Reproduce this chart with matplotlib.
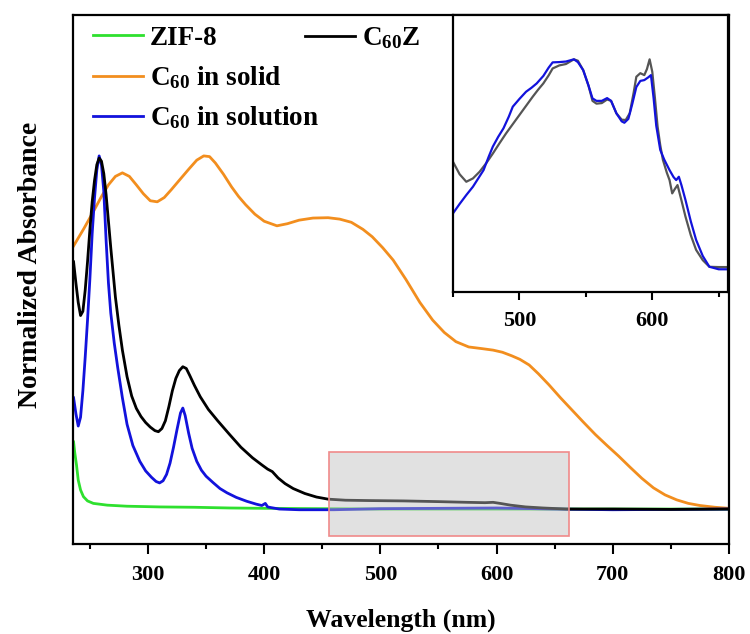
import numpy as np
import matplotlib
matplotlib.use("Agg")
import matplotlib.pyplot as plt
from matplotlib.patches import Rectangle
from matplotlib.ticker import MultipleLocator

plt.rcParams['font.family'] = 'Liberation Serif'
plt.rcParams['font.weight'] = 'bold'
plt.rcParams['mathtext.fontset'] = 'custom'
plt.rcParams['mathtext.rm'] = 'Liberation Serif:bold'
plt.rcParams['mathtext.bf'] = 'Liberation Serif:bold'
plt.rcParams['mathtext.default'] = 'rm'

# ==================== spectra (normalized) ==================== #

solid_nm = [236, 245, 253, 260, 266, 272, 278, 284, 290, 296, 302, 308, 314, 320,
            328, 335, 342, 348, 353, 358, 365, 372, 378, 384, 392, 400, 411, 420,
            430, 442, 455, 465, 475, 485, 493, 502, 511, 522, 534, 545, 555, 565,
            576, 588, 597, 605, 613, 620, 628, 636, 645, 655, 665, 675, 685, 695,
            705, 715, 725, 735, 745, 755, 765, 775, 788, 800]
solid_abs = [0.745, 0.795, 0.842, 0.885, 0.918, 0.942, 0.952, 0.942, 0.918, 0.893,
             0.873, 0.870, 0.882, 0.904, 0.935, 0.962, 0.988, 1.0, 0.998, 0.980,
             0.948, 0.912, 0.885, 0.862, 0.835, 0.815, 0.802, 0.808, 0.818, 0.824,
             0.825, 0.821, 0.812, 0.792, 0.771, 0.740, 0.705, 0.650, 0.585, 0.535,
             0.500, 0.474, 0.459, 0.454, 0.450, 0.444, 0.434, 0.424, 0.408, 0.383,
             0.352, 0.315, 0.280, 0.245, 0.211, 0.180, 0.150, 0.118, 0.087, 0.060,
             0.040, 0.026, 0.016, 0.010, 0.005, 0.002]

c60z_nm = [236, 238, 240, 242, 244, 246, 248, 250, 252, 254, 256, 258, 260, 262,
           264, 266, 268, 270, 272, 275, 278, 282, 286, 290, 294, 298, 302, 306,
           309, 312, 315, 318, 321, 324, 327, 330, 333, 336, 340, 345, 352, 360,
           370, 380, 390, 398, 403, 407, 412, 418, 425, 435, 445, 455, 470, 490,
           520, 550, 575, 590, 597, 603, 612, 625, 640, 660, 700, 750, 800]
c60z_abs = [0.700, 0.640, 0.585, 0.548, 0.560, 0.620, 0.700, 0.790, 0.870, 0.930,
            0.975, 0.994, 0.985, 0.950, 0.890, 0.815, 0.740, 0.670, 0.600, 0.520,
            0.450, 0.375, 0.320, 0.285, 0.262, 0.245, 0.232, 0.222, 0.219, 0.228,
            0.250, 0.290, 0.335, 0.370, 0.392, 0.403, 0.398, 0.378, 0.350, 0.318,
            0.282, 0.250, 0.212, 0.175, 0.145, 0.125, 0.113, 0.106, 0.088, 0.072,
            0.058, 0.044, 0.034, 0.028, 0.025, 0.024, 0.023, 0.021, 0.019, 0.018,
            0.019, 0.016, 0.011, 0.006, 0.003, 0.000, 0.000, -0.001, 0.000]

soln_nm = [236, 238, 240, 242, 244, 246, 248, 250, 252, 254, 256, 258, 260, 262,
           264, 266, 268, 271, 274, 278, 282, 287, 293, 298, 303, 307, 310, 313,
           316, 319, 322, 325, 328, 330, 332, 335, 338, 342, 346, 350, 356, 362,
           368, 376, 385, 393, 398, 401, 403, 406, 413, 430, 460, 500, 550, 600,
           650, 700, 750, 800]
soln_abs = [0.315, 0.270, 0.235, 0.260, 0.335, 0.430, 0.535, 0.650, 0.780, 0.880,
            0.960, 1.0, 0.975, 0.900, 0.760, 0.640, 0.555, 0.470, 0.400, 0.315,
            0.240, 0.180, 0.135, 0.108, 0.090, 0.078, 0.074, 0.080, 0.098, 0.130,
            0.175, 0.225, 0.272, 0.286, 0.265, 0.215, 0.172, 0.135, 0.110, 0.093,
            0.075, 0.058, 0.046, 0.033, 0.022, 0.014, 0.010, 0.016, 0.006, 0.004,
            0.000, -0.002, -0.002, 0.001, 0.002, 0.003, 0.000, -0.002, -0.001, 0.000]

zif_nm = [236, 237, 238.5, 240, 242, 244.5, 248, 253, 265, 282, 310, 340, 370,
          400, 450, 500, 600, 700, 800]
zif_abs = [0.190, 0.160, 0.125, 0.082, 0.054, 0.035, 0.023, 0.016, 0.011, 0.008,
           0.006, 0.005, 0.003, 0.002, 0.001, 0.000, 0.000, 0.000, 0.000]

# zoomed 450-657 nm window
zoom_nm_z = [450, 455, 460, 465, 470, 475, 480, 485, 490, 495, 500, 505, 510, 514,
             518, 522, 525, 530, 535, 541, 544, 548, 552, 555, 558, 562, 566, 569,
             573, 577, 580, 583, 586, 588, 591, 594, 596, 598, 600, 602, 604, 606,
             608, 611, 613, 615, 617, 619, 622, 625, 629, 633, 638, 643, 650, 657]
zoom_c60z = [0.470, 0.425, 0.398, 0.410, 0.434, 0.465, 0.500, 0.537, 0.573, 0.606,
             0.639, 0.672, 0.705, 0.730, 0.753, 0.782, 0.807, 0.818, 0.823, 0.840,
             0.835, 0.801, 0.745, 0.690, 0.680, 0.682, 0.695, 0.690, 0.645, 0.622,
             0.621, 0.645, 0.720, 0.777, 0.790, 0.783, 0.805, 0.840, 0.795, 0.700,
             0.597, 0.530, 0.477, 0.430, 0.404, 0.356, 0.372, 0.386, 0.330, 0.272,
             0.205, 0.152, 0.115, 0.091, 0.090, 0.090]

zoom_nm_s = [450, 455, 460, 465, 469, 473, 477, 480, 484, 488, 492, 495, 500, 505,
             509, 513, 518, 522, 525, 530, 535, 541, 544, 548, 552, 555, 558, 562,
             566, 569, 573, 577, 579, 582, 585, 588, 591, 594, 597, 599, 601, 603,
             606, 609, 613, 616, 618, 620, 622, 625, 629, 633, 638, 643, 650, 657]
zoom_soln = [0.284, 0.318, 0.350, 0.380, 0.410, 0.440, 0.490, 0.525, 0.560, 0.591,
             0.633, 0.669, 0.697, 0.723, 0.737, 0.753, 0.780, 0.810, 0.829, 0.830,
             0.832, 0.840, 0.830, 0.801, 0.745, 0.699, 0.690, 0.690, 0.700, 0.690,
             0.645, 0.616, 0.611, 0.625, 0.680, 0.740, 0.762, 0.765, 0.775, 0.783,
             0.700, 0.600, 0.513, 0.478, 0.440, 0.415, 0.404, 0.416, 0.385, 0.332,
             0.255, 0.188, 0.130, 0.091, 0.082, 0.082]

box_nm = (455.5, 662)
box_abs = (-0.077, 0.161)

# ========================= plotting ========================= #

fig = plt.figure(figsize=(7.5, 6.34), dpi=100)
ax = fig.add_axes([73/750, 90/634, 656/750, 529/634])

c_green, c_orange, c_blue, c_black = '#2ee02e', '#f28e1e', '#1212dc', 'black'
lw = 2.0

ln_zif, = ax.plot(zif_nm, zif_abs, color=c_green, lw=lw, label='ZIF-8')
ln_solid, = ax.plot(solid_nm, solid_abs, color=c_orange, lw=lw, label='C$_{60}$ in solid')
ln_soln, = ax.plot(soln_nm, soln_abs, color=c_blue, lw=lw, label='C$_{60}$ in solution')
ln_c60z, = ax.plot(c60z_nm, c60z_abs, color=c_black, lw=lw, label='C$_{60}$Z')

ax.add_patch(Rectangle((box_nm[0], box_abs[0]), box_nm[1] - box_nm[0],
                       box_abs[1] - box_abs[0], facecolor=(0.745, 0.745, 0.745, 0.45),
                       edgecolor='#f08a8a', lw=1.2, zorder=5))

ax.set_xlim(235.5, 800)
ax.set_ylim(-0.099, 1.399)
ax.set_yticks([])
ax.xaxis.set_major_locator(MultipleLocator(100))
ax.xaxis.set_minor_locator(MultipleLocator(50))
ax.tick_params(axis='x', which='major', direction='out', length=7, width=1.5,
               labelsize=16, pad=8)
ax.tick_params(axis='x', which='minor', direction='out', length=3.5, width=1.5)
for sp in ax.spines.values():
    sp.set_linewidth(1.6)

ax.set_xlabel('Wavelength (nm)', fontsize=18.5, fontweight='bold')
ax.xaxis.set_label_coords(0.5, -0.123)
ax.set_ylabel('Normalized Absorbance', fontsize=20, fontweight='bold')
ax.yaxis.set_label_coords(-0.046, 0.527)

leg_kw = dict(loc='upper left', frameon=False, fontsize=19.5, handlelength=1.85,
              handletextpad=0.25, borderpad=0, borderaxespad=0)
leg1 = ax.legend(handles=[ln_zif, ln_solid, ln_soln], bbox_to_anchor=(0.030, 0.980),
                 labelspacing=0.5, **leg_kw)
ax.add_artist(leg1)
ax.legend(handles=[ln_c60z], bbox_to_anchor=(0.354, 0.980), **leg_kw)

# inset with the 450-657 nm region
ins = fig.add_axes([453/750, 342/634, 275/750, 277/634])
ins.plot(zoom_nm_z, zoom_c60z, color='#555555', lw=1.6)
ins.plot(zoom_nm_s, zoom_soln, color=c_blue, lw=1.6)
ins.set_xlim(450, 657)
ins.set_ylim(0, 1)
ins.set_yticks([])
ins.xaxis.set_major_locator(MultipleLocator(100))
ins.xaxis.set_minor_locator(MultipleLocator(50))
ins.tick_params(axis='x', which='major', direction='out', length=6, width=1.5,
                labelsize=16, pad=8)
ins.tick_params(axis='x', which='minor', direction='out', length=3.5, width=1.5)
for sp in ins.spines.values():
    sp.set_linewidth(1.6)

fig.savefig('out.png', dpi=100)
